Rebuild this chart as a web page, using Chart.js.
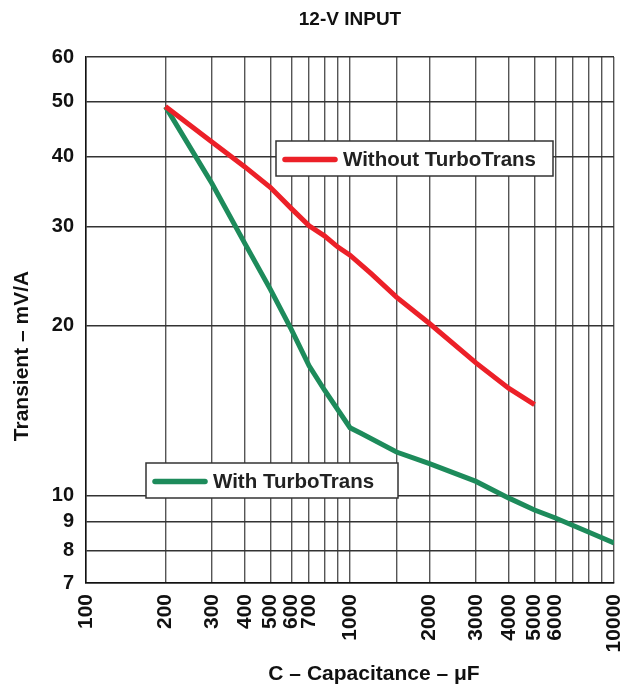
<!DOCTYPE html>
<html>
<head>
<meta charset="utf-8">
<script src="https://cdn.jsdelivr.net/npm/chart.js@4"></script>
<style>
  html, body { margin: 0; padding: 0; background: #fff; }
  #wrap { width: 625px; height: 685px; }
</style>
</head>
<body>
<div id="wrap"><canvas id="chart" width="625" height="685"></canvas></div>
<script>
// Capacitance (uF) and transient (mV/A)
const withoutCap = [200, 300, 400, 500, 600, 700, 800, 900, 1000, 1200, 1500, 2000, 3000, 4000, 5000];
const withoutVal = [49, 42.4, 38.3, 35.2, 32.3, 30.1, 28.9, 27.6, 26.7, 24.8, 22.5, 20.2, 17.2, 15.5, 14.5];

const withCap = [200, 300, 400, 500, 600, 700, 800, 1000, 1100, 1500, 2000, 3000, 4000, 5000, 6000, 8000, 10000];
const withVal = [49, 35.8, 28.0, 23.2, 19.7, 17.0, 15.4, 13.2, 12.9, 11.95, 11.4, 10.6, 9.9, 9.43, 9.13, 8.62, 8.24];

const xLabelled = [100, 200, 300, 400, 500, 600, 700, 1000, 2000, 3000, 4000, 5000, 6000, 10000];
const yLabelled = [7, 8, 9, 10, 20, 30, 40, 50, 60];

const FONT = '"Liberation Sans", Arial, sans-serif';

// legend boxes sit inside the plot, titles are placed by hand
const boxLegend = {
  id: 'boxLegend',
  afterDatasetsDraw(chart) {
    const ctx = chart.ctx;
    const boxes = [
      { ds: 0, x: 276, y: 141, w: 277, h: 35 },
      { ds: 1, x: 146, y: 463, w: 252, h: 35 }
    ];
    ctx.save();
    boxes.forEach(b => {
      const ds = chart.data.datasets[b.ds];
      ctx.fillStyle = '#fff';
      ctx.fillRect(b.x, b.y, b.w, b.h);
      ctx.strokeStyle = '#333';
      ctx.lineWidth = 1.5;
      ctx.strokeRect(b.x, b.y, b.w, b.h);
      ctx.strokeStyle = ds.borderColor;
      ctx.lineWidth = 5.5;
      ctx.lineCap = 'round';
      ctx.beginPath();
      ctx.moveTo(b.x + 9, b.y + b.h / 2 + 1);
      ctx.lineTo(b.x + 59, b.y + b.h / 2 + 1);
      ctx.stroke();
      ctx.fillStyle = '#222';
      ctx.font = 'bold 20.5px ' + FONT;
      ctx.textBaseline = 'middle';
      ctx.textAlign = 'left';
      ctx.fillText(ds.label, b.x + 67, b.y + b.h / 2 + 2);
    });

    ctx.fillStyle = '#111';
    ctx.textAlign = 'center';
    ctx.textBaseline = 'middle';
    ctx.font = 'bold 19px ' + FONT;
    ctx.fillText('12-V INPUT', 350, 20);

    ctx.font = 'bold 21px ' + FONT;
    ctx.fillText('C – Capacitance – μF', 374, 674);

    ctx.translate(22, 356);
    ctx.rotate(-Math.PI / 2);
    ctx.fillText('Transient – mV/A', 0, 0);
    ctx.restore();
  }
};

new Chart(document.getElementById('chart'), {
  type: 'line',
  data: {
    datasets: [
      {
        label: 'Without TurboTrans',
        data: withoutCap.map((c, i) => ({ x: c, y: withoutVal[i] })),
        borderColor: '#ec2028',
        borderWidth: 5,
        pointRadius: 0,
        tension: 0
      },
      {
        label: 'With TurboTrans',
        data: withCap.map((c, i) => ({ x: c, y: withVal[i] })),
        borderColor: '#1d8b5b',
        borderWidth: 5,
        pointRadius: 0,
        tension: 0
      }
    ]
  },
  options: {
    responsive: false,
    animation: false,
    devicePixelRatio: 1,
    layout: { padding: { top: 57, right: 11, left: 0, bottom: 0 } },
    plugins: { legend: { display: false }, tooltip: { enabled: false } },
    scales: {
      x: {
        type: 'logarithmic',
        min: 100,
        max: 10000,
        afterFit: s => { s.height = 102; s.paddingLeft = 0; s.paddingRight = 0; },
        grid: { color: '#555', lineWidth: 1.4, drawTicks: false },
        border: { color: '#111', width: 1.5 },
        ticks: {
          autoSkip: false,
          minRotation: 90,
          maxRotation: 90,
          padding: 11,
          color: '#111',
          font: { family: FONT, size: 21, weight: 'bold' },
          callback: v => xLabelled.includes(v) ? String(v) : ''
        }
      },
      y: {
        type: 'logarithmic',
        min: 7,
        max: 60,
        afterBuildTicks: s => { s.ticks = yLabelled.map(v => ({ value: v })); },
        afterFit: s => { s.width = 86; s.paddingTop = 0; s.paddingBottom = 0; },
        grid: { color: '#333', lineWidth: 1.4, drawTicks: false },
        border: { color: '#111', width: 1.5 },
        ticks: {
          autoSkip: false,
          padding: 12,
          color: '#111',
          font: { family: FONT, size: 20, weight: 'bold' },
          callback: v => String(v)
        }
      }
    }
  },
  plugins: [boxLegend]
});
</script>
</body>
</html>
